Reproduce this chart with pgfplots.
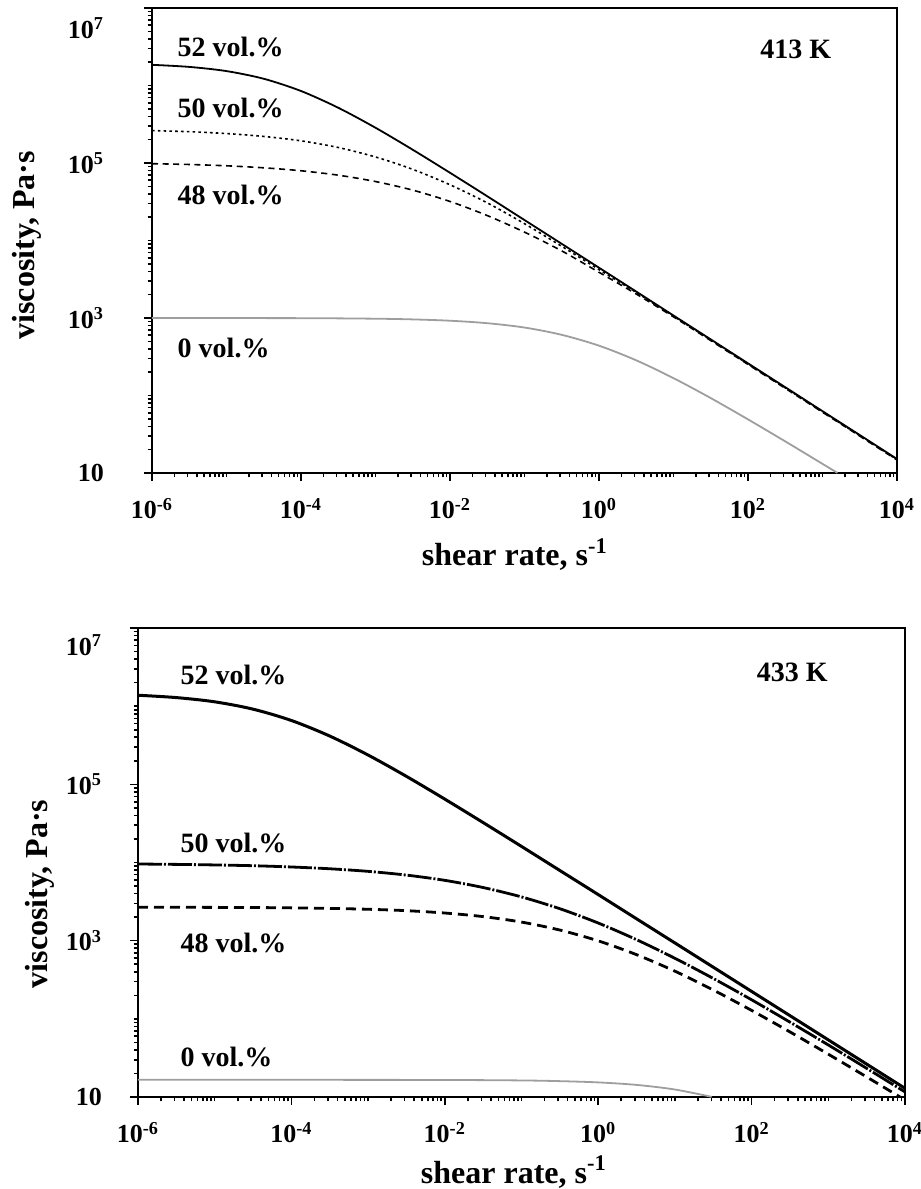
\documentclass[border=0pt]{standalone}
\usepackage{fontspec}
\setmainfont{Liberation Serif}
\usepackage{pgfplots}
\pgfplotsset{compat=1.18}

\definecolor{zeroline}{gray}{0.62}

\tikzset{note/.style={anchor=west, inner sep=0pt, font=\bfseries\fontsize{14}{16}\selectfont}}

% both panels are log-log: data below are log10 values
\pgfplotsset{
  visc/.style={
    scale only axis,
    xmin=-6, xmax=4, ymin=1, ymax=7,
    axis line style={line width=1.3pt},
    tick style={black, line width=0.8pt},
    tick align=outside, tick pos=left,
    major tick length=4pt, minor tick length=2.2pt,
    xtick={-6,-4,...,4},
    xticklabels={10\textsuperscript{-6},10\textsuperscript{-4},10\textsuperscript{-2},10\textsuperscript{0},10\textsuperscript{2},10\textsuperscript{4}},
    ytick={1,3,5},
    yticklabels={10,10\textsuperscript{3},10\textsuperscript{5}},
    extra y ticks={7},
    extra y tick labels={10\textsuperscript{7}},
    minor xtick={-5.699,-5.523,-5.398,-5.301,-5.222,-5.155,-5.097,-5.046,-5,
      -4.699,-4.523,-4.398,-4.301,-4.222,-4.155,-4.097,-4.046,
      -3.699,-3.523,-3.398,-3.301,-3.222,-3.155,-3.097,-3.046,-3,
      -2.699,-2.523,-2.398,-2.301,-2.222,-2.155,-2.097,-2.046,
      -1.699,-1.523,-1.398,-1.301,-1.222,-1.155,-1.097,-1.046,-1,
      -0.699,-0.523,-0.398,-0.301,-0.222,-0.155,-0.097,-0.046,
      0.301,0.477,0.602,0.699,0.778,0.845,0.903,0.954,1,
      1.301,1.477,1.602,1.699,1.778,1.845,1.903,1.954,
      2.301,2.477,2.602,2.699,2.778,2.845,2.903,2.954,3,
      3.301,3.477,3.602,3.699,3.778,3.845,3.903,3.954},
    minor ytick={1.301,1.477,1.602,1.699,1.778,1.845,1.903,1.954,2,
      2.301,2.477,2.602,2.699,2.778,2.845,2.903,2.954,
      3.301,3.477,3.602,3.699,3.778,3.845,3.903,3.954,4,
      4.301,4.477,4.602,4.699,4.778,4.845,4.903,4.954,
      5.301,5.477,5.602,5.699,5.778,5.845,5.903,5.954,6,
      6.301,6.477,6.602,6.699,6.778,6.845,6.903,6.954},
    tick label style={font=\bfseries\fontsize{13}{14}\selectfont},
    label style={font=\bfseries\fontsize{16}{18}\selectfont},
    xlabel={shear rate, s\textsuperscript{-1}},
    ylabel={viscosity, Pa·s},
    xticklabel style={yshift=-5pt},
  },
}

\begin{document}
\begin{tikzpicture}
\useasboundingbox (0,0) rectangle (460.5pt,-594.5pt);

% ================= TOP: 413 K =================
\begin{axis}[visc,
  at={(76pt,-236.5pt)}, anchor=south west,
  width=372.5pt, height=232.5pt,
  yticklabel style={xshift=-16.5pt},
  extra y tick style={yticklabel style={yshift=-10pt}},
  xlabel style={at={(axis description cs:0.487,-0.175)}, anchor=center},
  ylabel style={at={(axis description cs:-0.168,0.49)}, anchor=center},
]
  \addplot[black, line width=0.9pt, smooth] coordinates {
    (-6,6.267) (-5.5,6.240) (-5,6.186) (-4.5,6.087) (-4,5.929) (-3.5,5.713)
    (-3,5.455) (-2.5,5.171) (-2,4.874) (-1.5,4.571) (-1,4.264) (-0.5,3.957)
    (0,3.649) (0.5,3.341) (1,3.032) (1.5,2.724) (2,2.415) (2.5,2.107)
    (3,1.798) (3.5,1.490) (4,1.181)
  };
  \addplot[black, line width=0.8pt, smooth, dash pattern=on 1.3pt off 1.6pt] coordinates {
    (-6,5.418) (-5.5,5.404) (-5,5.380) (-4.5,5.343) (-4,5.286) (-3.5,5.200)
    (-3,5.078) (-2.5,4.918) (-2,4.719) (-1.5,4.486) (-1,4.217) (-0.5,3.925)
    (0,3.625) (0.5,3.330) (1,3.024) (1.5,2.716) (2,2.407) (2.5,2.099)
    (3,1.790) (3.5,1.482) (4,1.173)
  };
  \addplot[black, line width=0.8pt, smooth, dash pattern=on 3pt off 2.3pt] coordinates {
    (-6,4.991) (-5.5,4.981) (-5,4.964) (-4.5,4.938) (-4,4.900) (-3.5,4.843)
    (-3,4.761) (-2.5,4.650) (-2,4.504) (-1.5,4.322) (-1,4.108) (-0.5,3.866)
    (0,3.590) (0.5,3.310) (1,3.015) (1.5,2.709) (2,2.401) (2.5,2.093)
    (3,1.785) (3.5,1.477) (4,1.168)
  };
  \addplot[zeroline, line width=0.9pt, smooth] coordinates {
    (-6,3.000) (-4,2.998) (-3,2.991) (-2.5,2.982) (-2,2.965) (-1.5,2.933)
    (-1,2.877) (-0.5,2.783) (0,2.643) (0.5,2.454) (1,2.224) (1.5,1.967)
    (2,1.692) (2.5,1.408) (3,1.118) (3.2,1.002)
  };
  \node[note] at (rel axis cs:0.034,0.916) {52 vol.\%};
  \node[note] at (rel axis cs:0.034,0.785) {50 vol.\%};
  \node[note] at (rel axis cs:0.034,0.598) {48 vol.\%};
  \node[note] at (rel axis cs:0.034,0.269) {0 vol.\%};
  \node[note, anchor=center] at (rel axis cs:0.864,0.91) {413 K};
\end{axis}

% ================= BOTTOM: 433 K =================
\begin{axis}[visc,
  at={(69pt,-548.5pt)}, anchor=south west,
  width=383.5pt, height=234.5pt,
  yticklabel style={xshift=-10.5pt},
  extra y tick style={yticklabel style={yshift=-8.5pt}},
  xlabel style={at={(axis description cs:0.49,-0.16)}, anchor=center},
  ylabel style={at={(axis description cs:-0.128,0.433)}, anchor=center},
]
  \addplot[black, line width=1.5pt, smooth] coordinates {
    (-6,6.140) (-5.5,6.110) (-5,6.056) (-4.5,5.962) (-4,5.817) (-3.5,5.618)
    (-3,5.375) (-2.5,5.102) (-2,4.811) (-1.5,4.511) (-1,4.206) (-0.5,3.898)
    (0,3.590) (0.5,3.280) (1,2.971) (1.5,2.661) (2,2.351) (2.5,2.041)
    (3,1.731) (3.5,1.421) (4,1.111)
  };
  \addplot[black, line width=1.4pt, smooth, dash pattern=on 12pt off 1pt on 1pt off 1pt] coordinates {
    (-6,3.981) (-5.5,3.976) (-5,3.969) (-4.5,3.959) (-4,3.943) (-3.5,3.920)
    (-3,3.887) (-2.5,3.839) (-2,3.772) (-1.5,3.680) (-1,3.560) (-0.5,3.409)
    (0,3.226) (0.5,3.013) (1,2.775) (1.5,2.517) (2,2.244) (2.5,1.958)
    (3,1.666) (3.5,1.367) (4,1.065)
  };
  \addplot[black, line width=1.4pt, smooth, dash pattern=on 5pt off 3pt] coordinates {
    (-6,3.429) (-5,3.426) (-4.5,3.424) (-4,3.420) (-3.5,3.413) (-3,3.402)
    (-2.5,3.384) (-2,3.354) (-1.5,3.308) (-1,3.238) (-0.5,3.136) (0,2.998)
    (0.5,2.821) (1,2.610) (1.5,2.369) (2,2.108) (2.5,1.833) (3,1.548)
    (3.5,1.257) (3.9,1.021) (4,0.963)
  };
  \addplot[zeroline, line width=0.9pt, smooth] coordinates {
    (-6,1.220) (-4,1.220) (-2,1.218) (-1,1.212) (-0.5,1.203) (0,1.187)
    (0.5,1.155) (1,1.096) (1.48,1.002)
  };
  \node[note] at (rel axis cs:0.055,0.900) {52 vol.\%};
  \node[note] at (rel axis cs:0.055,0.542) {50 vol.\%};
  \node[note] at (rel axis cs:0.055,0.328) {48 vol.\%};
  \node[note] at (rel axis cs:0.055,0.085) {0 vol.\%};
  \node[note, anchor=center] at (rel axis cs:0.853,0.906) {433 K};
\end{axis}
\end{tikzpicture}
\end{document}
